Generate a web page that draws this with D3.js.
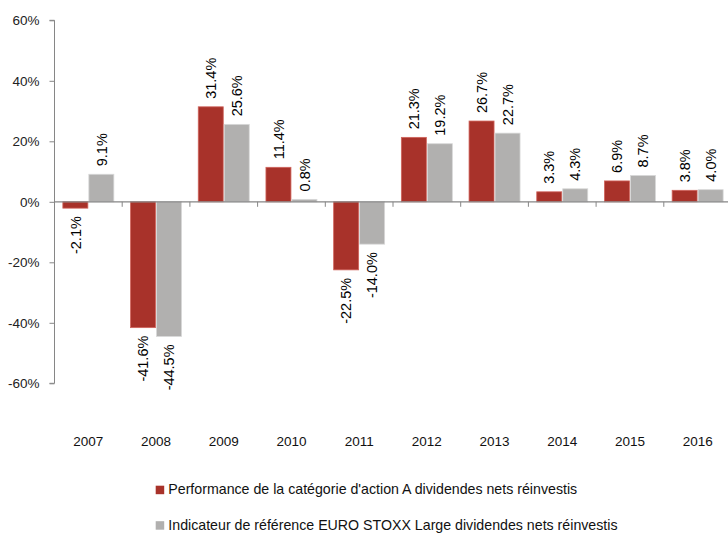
<!DOCTYPE html>
<html>
<head>
<meta charset="utf-8">
<script src="https://cdn.jsdelivr.net/npm/d3@7/dist/d3.min.js"></script>
<style>
  html, body { margin: 0; padding: 0; background: #fff; }
  svg { display: block; font-family: "Liberation Sans", Arial, sans-serif; }
</style>
</head>
<body>
<svg id="chart" width="728" height="533"></svg>
<script>
// Annual performance, in percent
const years = ["2007", "2008", "2009", "2010", "2011", "2012", "2013", "2014", "2015", "2016"];
const fundValues = [-2.1, -41.6, 31.4, 11.4, -22.5, 21.3, 26.7, 3.3, 6.9, 3.8];
const benchmarkValues = [9.1, -44.5, 25.6, 0.8, -14.0, 19.2, 22.7, 4.3, 8.7, 4.0];
const seriesNames = [
  "Performance de la catégorie d'action A dividendes nets réinvestis",
  "Indicateur de référence EURO STOXX Large dividendes nets réinvestis"
];
const yTicks = [-60, -40, -20, 0, 20, 40, 60];

const colors = ["#A8322A", "#B1B0AF"];
const strokes = ["#D0645C", "#D8D8D8"];

const svg = d3.select("#chart");

const x = d3.scaleBand()
  .domain(years)
  .range([54.5, 731.5])
  .paddingInner(0.232)
  .paddingOuter(0.116);

const xStep = x.step();
const x1 = d3.scaleBand()
  .domain([0, 1])
  .range([0, x.bandwidth()]);

const y = d3.scaleLinear()
  .domain([-60, 60])
  .range([383.3, 20.3]);

const data = years.map((yr, i) => ({ year: yr, values: [fundValues[i], benchmarkValues[i]] }));

// bars
const groups = svg.append("g")
  .selectAll("g")
  .data(data)
  .join("g")
  .attr("transform", d => `translate(${x(d.year)},0)`);

groups.selectAll("rect")
  .data(d => d.values.map((v, s) => ({ v, s })))
  .join("rect")
  .attr("x", d => x1(d.s) + 0.5)
  .attr("width", x1.bandwidth() - 1)
  .attr("y", d => Math.min(y(d.v), y(0)))
  .attr("height", d => Math.abs(y(d.v) - y(0)))
  .attr("fill", d => colors[d.s])
  .attr("stroke", d => strokes[d.s])
  .attr("stroke-width", 0.8);

// value labels, rotated
groups.selectAll("text")
  .data(d => d.values.map((v, s) => ({ v, s })))
  .join("text")
  .attr("transform", d => {
    const cx = x1(d.s) + x1.bandwidth() / 2;
    const yy = d.v >= 0 ? y(d.v) - 8 : y(d.v) + 8;
    return `translate(${cx},${yy}) rotate(-90)`;
  })
  .attr("dy", "0.36em")
  .attr("text-anchor", d => d.v >= 0 ? "start" : "end")
  .attr("font-size", "14.5px")
  .attr("fill", "#000")
  .text(d => d.v.toFixed(1) + "%");

// y axis
const yAxis = d3.axisLeft(y)
  .tickValues(yTicks)
  .tickSize(5)
  .tickFormat(d => d + "%");

const yG = svg.append("g")
  .attr("transform", "translate(54.5,0)")
  .call(yAxis);
yG.select(".domain").attr("stroke", "#868686").attr("d", `M-5,${y(60)}H0V${y(-60)}H-5`);
yG.selectAll(".tick line").attr("stroke", "#868686");
yG.selectAll(".tick text")
  .attr("x", -15)
  .attr("font-size", "13.5px")
  .attr("fill", "#222");
yG.attr("font-family", null);

// zero line with category ticks
const zeroY = y(0);
svg.append("line")
  .attr("x1", 54.5).attr("x2", 731.5)
  .attr("y1", zeroY).attr("y2", zeroY)
  .attr("stroke", "#868686").attr("stroke-width", 1.2);

svg.append("g")
  .selectAll("line")
  .data(years.slice(1))
  .join("line")
  .attr("x1", d => x(d) - (xStep - x.bandwidth()) / 2)
  .attr("x2", d => x(d) - (xStep - x.bandwidth()) / 2)
  .attr("y1", zeroY)
  .attr("y2", zeroY + 5)
  .attr("stroke", "#868686");

// year labels
svg.append("g")
  .selectAll("text")
  .data(years)
  .join("text")
  .attr("x", d => x(d) + x.bandwidth() / 2)
  .attr("y", 445.5)
  .attr("text-anchor", "middle")
  .attr("font-size", "13.5px")
  .attr("fill", "#111")
  .text(d => d);

// legend
const legend = svg.append("g")
  .selectAll("g")
  .data(seriesNames)
  .join("g")
  .attr("transform", (d, i) => `translate(155.7,${485.7 + i * 35.5})`);

legend.append("rect")
  .attr("width", 8.5)
  .attr("height", 8.5)
  .attr("fill", (d, i) => colors[i]);

legend.append("text")
  .attr("x", 12.6)
  .attr("y", 8.5)
  .attr("font-size", "14.2px")
  .attr("fill", "#111")
  .text(d => d);
</script>
</body>
</html>
